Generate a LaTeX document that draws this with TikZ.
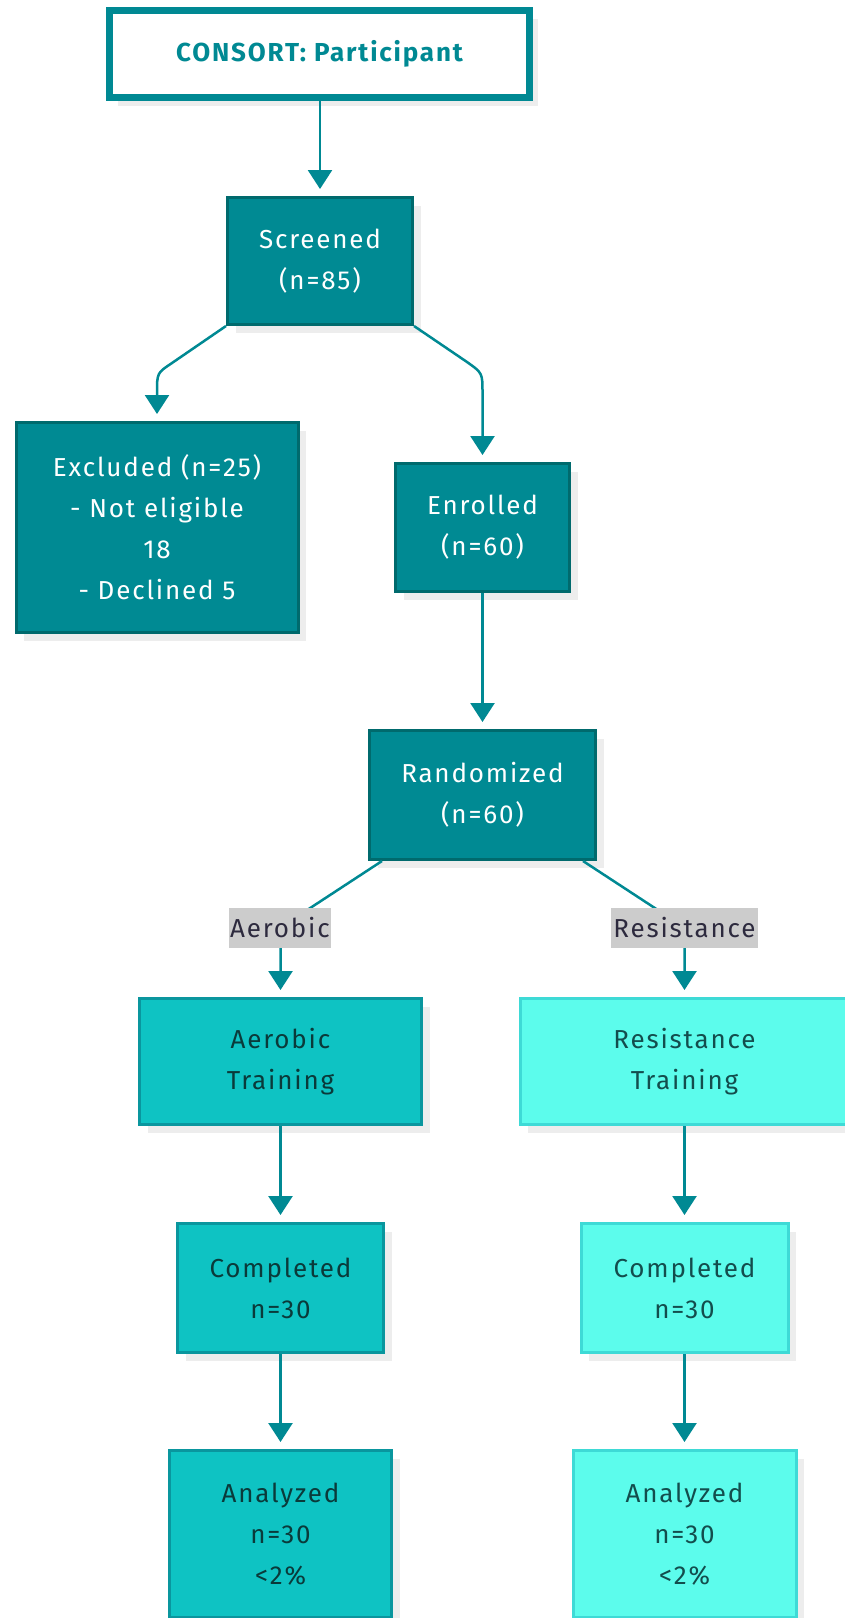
\documentclass[tikz,border=0pt]{standalone}
\usepackage{fontspec}
\setmainfont{Fira Sans}[LetterSpace=7.0]
\usetikzlibrary{arrows.meta,shadows}
\definecolor{tealline}{HTML}{008993}
\definecolor{darkfill}{HTML}{008A93}
\definecolor{darkborder}{HTML}{006A6D}
\definecolor{aerofill}{HTML}{0EC3C3}
\definecolor{aeroborder}{HTML}{0A969E}
\definecolor{aerotext}{HTML}{0A3A3A}
\definecolor{resfill}{HTML}{5CFCEC}
\definecolor{resborder}{HTML}{3EDAD6}
\definecolor{restext}{HTML}{134D4D}
\definecolor{labelfill}{HTML}{CCCCCC}
\definecolor{labeltext}{HTML}{2D2A3E}
\definecolor{shadowgray}{HTML}{EDEDED}
\tikzset{
  boxbase/.style={rectangle, inner sep=0pt, align=center, line width=3pt,
    font=\fontsize{26}{41}\selectfont,
    drop shadow={shadow xshift=8pt, shadow yshift=-8pt, fill=shadowgray, opacity=1}},
  darkbox/.style={boxbase, fill=darkfill, draw=darkborder, text=white},
  aerobox/.style={boxbase, fill=aerofill, draw=aeroborder, text=aerotext},
  resbox/.style={boxbase, fill=resfill, draw=resborder, text=restext},
  titlebox/.style={rectangle, inner sep=0pt, line width=7pt, draw=tealline, fill=white,
    text=tealline, font=\fontsize{26}{30}\selectfont\bfseries,
    drop shadow={shadow xshift=8pt, shadow yshift=-8pt, fill=shadowgray, opacity=1}},
  edgelabel/.style={rectangle, fill=labelfill, text=labeltext, inner sep=0pt,
    minimum height=40pt, font=\fontsize{26}{30}\selectfont},
  conn/.style={draw=tealline, line width=2.5pt, shorten >=7pt,
    -{Triangle[length=19pt,width=24pt]}},
}
\begin{document}
\begin{tikzpicture}[x=1pt,y=-1pt]
\useasboundingbox (0,0) rectangle (844,1618);
\node[titlebox, minimum width=420pt, minimum height=87pt] (title) at (319.5,54) {CONSORT: Participant};
\node[darkbox, minimum width=185pt, minimum height=127pt] (scr) at (320,261) {Screened\\(n=85)};
\node[darkbox, minimum width=282pt, minimum height=210pt] (exc) at (157,527.5) {Excluded (n=25)\\- Not eligible\\18\\- Declined 5};
\node[darkbox, minimum width=174pt, minimum height=128pt] (enr) at (482.5,527.5) {Enrolled\\(n=60)};
\node[darkbox, minimum width=226pt, minimum height=129pt] (rnd) at (482.5,795) {Randomized\\(n=60)};
\node[aerobox, minimum width=282pt, minimum height=126pt] (at) at (280.5,1061.5) {Aerobic\\Training};
\node[resbox, minimum width=329pt, minimum height=126pt] (rt) at (684.5,1061.5) {Resistance\\Training};
\node[aerobox, minimum width=206pt, minimum height=129pt] (cl) at (280.5,1288) {Completed\\n=30};
\node[resbox, minimum width=207pt, minimum height=129pt] (cr) at (684.5,1288) {Completed\\n=30};
\node[aerobox, minimum width=222pt, minimum height=167pt] (al) at (280.5,1534) {Analyzed\\n=30\\<2\%};
\node[resbox, minimum width=223pt, minimum height=167pt] (ar) at (684.5,1534) {Analyzed\\n=30\\<2\%};

% connectors
\draw[conn] (title.south -| scr.north) -- (scr.north);
\draw[conn] (scr.south west) -- (172,363) .. controls (exc.north |- 0,373) .. (exc.north |- 0,393) -- (exc.north);
\draw[conn] (scr.south east) -- (467,362) .. controls (enr.north |- 0,373) .. (enr.north |- 0,393) -- (enr.north);
\draw[conn] (enr.south) -- (rnd.north);
\draw[conn] ([xshift=14pt]rnd.south west) -- (298,916) .. controls (at.north |- 0,926) .. (at.north |- 0,945) -- (at.north);
\draw[conn] ([xshift=-14pt]rnd.south east) -- (667,916) .. controls (rt.north |- 0,926) .. (rt.north |- 0,945) -- (rt.north);
\draw[conn] (at.south) -- (cl.north);
\draw[conn] (rt.south) -- (cr.north);
\draw[conn] (cl.south) -- (al.north);
\draw[conn] (cr.south) -- (ar.north);

% edge labels
\node[edgelabel, minimum width=102pt] (la) at (280,928) {Aerobic};
\node[edgelabel, minimum width=147pt] (lr) at (684.5,928) {Resistance};
\end{tikzpicture}
\end{document}
